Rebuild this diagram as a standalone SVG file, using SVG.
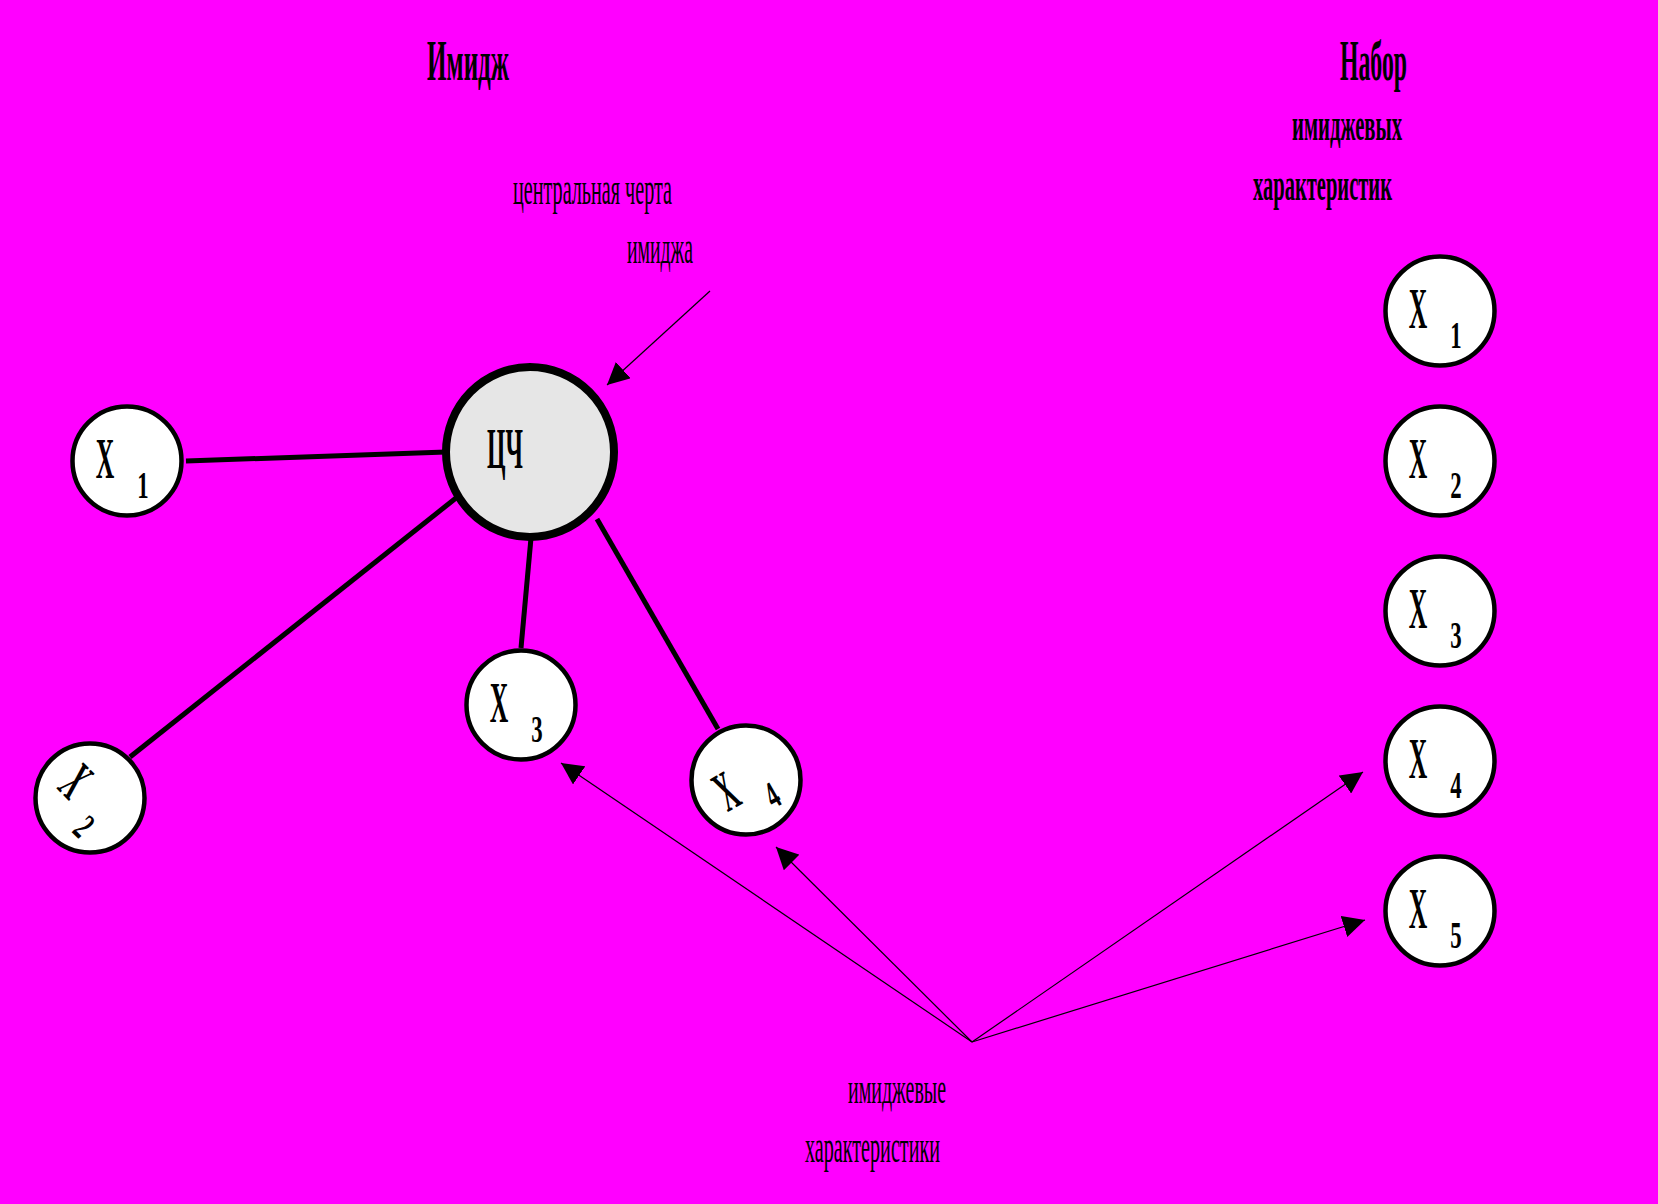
<svg xmlns="http://www.w3.org/2000/svg" width="1658" height="1204" viewBox="0 0 1658 1204">
<style>
.t{font-family:"Liberation Serif","Times New Roman",serif;fill:#000}
.b{font-weight:bold}
.node{fill:#fff;stroke:#000;stroke-width:4.5}
.edge{stroke:#000;stroke-width:5;fill:none}
.ptr{stroke:#000;stroke-width:1.2;fill:none;marker-end:url(#ah)}
.xl{font-family:"Liberation Serif","Times New Roman",serif;font-weight:bold;font-size:57px;text-anchor:middle}
.sub{font-family:"Liberation Serif","Times New Roman",serif;font-weight:bold;font-size:38px;text-anchor:middle}
</style>
<defs>
<marker id="ah" markerUnits="userSpaceOnUse" markerWidth="22" markerHeight="22" refX="20" refY="10" orient="auto" viewBox="0 0 20 20"><path d="M0,0 L20,10 L0,20 z" fill="#000"/></marker>
</defs>
<rect x="0" y="0" width="1658" height="1204" fill="#FF00FF"/>

<g id="labels">
<text class="t b" x="427" y="80" font-size="57" textLength="82" lengthAdjust="spacingAndGlyphs">Имидж</text>
<text class="t b" x="1340" y="80" font-size="57" textLength="67" lengthAdjust="spacingAndGlyphs">Набор</text>
<text class="t b" x="1292" y="140" font-size="46" textLength="110" lengthAdjust="spacingAndGlyphs">имиджевых</text>
<text class="t b" x="1253" y="200" font-size="46" textLength="139" lengthAdjust="spacingAndGlyphs">характеристик</text>
<text class="t" x="513" y="204" font-size="47" textLength="159" lengthAdjust="spacingAndGlyphs">центральная черта</text>
<text class="t" x="627" y="263" font-size="46" textLength="66" lengthAdjust="spacingAndGlyphs">имиджа</text>
<text class="t" x="848" y="1103" font-size="45" textLength="98" lengthAdjust="spacingAndGlyphs">имиджевые</text>
<text class="t" x="805" y="1162" font-size="47" textLength="135" lengthAdjust="spacingAndGlyphs">характеристики</text>
</g>

<g id="connectors">
<line class="edge" x1="186" y1="461" x2="446" y2="452"/>
<line class="edge" x1="130" y1="757" x2="456" y2="498"/>
<line class="edge" x1="531" y1="538" x2="521" y2="648"/>
<line class="edge" x1="597" y1="519" x2="718" y2="729"/>
<line class="ptr" x1="710" y1="291" x2="607" y2="385"/>
<line class="ptr" x1="972" y1="1042" x2="561" y2="763"/>
<line class="ptr" x1="972" y1="1042" x2="776" y2="847"/>
<line class="ptr" x1="972" y1="1042" x2="1363" y2="772"/>
<line class="ptr" x1="972" y1="1042" x2="1365" y2="920"/>
</g>

<g id="node-cc">
<ellipse cx="530" cy="452" rx="84" ry="85" fill="#E6E6E6" stroke="#000" stroke-width="8"/>
<text class="t b" x="487" y="468" font-size="56" textLength="36" lengthAdjust="spacingAndGlyphs">ЦЧ</text>
</g>

<g id="node-left-x1">
<circle class="node" cx="127" cy="461" r="54.5"/>
<text class="xl" transform="translate(105,478) scale(0.45,1)">X</text>
<text class="sub" transform="translate(143,498) scale(0.6,1)">1</text>
</g>

<g id="node-left-x2">
<circle class="node" cx="90" cy="798" r="54.5"/>
<g transform="rotate(45,90,798)">
<text class="xl" transform="translate(68,815) scale(0.45,1)">X</text>
<text class="sub" transform="translate(106,835) scale(0.6,1)">2</text>
</g>
</g>

<g id="node-left-x3">
<circle class="node" cx="521" cy="705" r="54.5"/>
<text class="xl" transform="translate(499,722) scale(0.45,1)">X</text>
<text class="sub" transform="translate(537,742) scale(0.6,1)">3</text>
</g>

<g id="node-left-x4">
<circle class="node" cx="746" cy="780" r="54.5"/>
<g transform="rotate(-30,746,782)">
<text class="xl" transform="translate(724,799) scale(0.45,1)">X</text>
<text class="sub" transform="translate(762,819) scale(0.6,1)">4</text>
</g>
</g>

<g id="node-right-x1">
<circle class="node" cx="1440" cy="311" r="54.5"/>
<text class="xl" transform="translate(1418,328) scale(0.45,1)">X</text>
<text class="sub" transform="translate(1456,348) scale(0.6,1)">1</text>
</g>
<g id="node-right-x2">
<circle class="node" cx="1440" cy="461" r="54.5"/>
<text class="xl" transform="translate(1418,478) scale(0.45,1)">X</text>
<text class="sub" transform="translate(1456,498) scale(0.6,1)">2</text>
</g>
<g id="node-right-x3">
<circle class="node" cx="1440" cy="611" r="54.5"/>
<text class="xl" transform="translate(1418,628) scale(0.45,1)">X</text>
<text class="sub" transform="translate(1456,648) scale(0.6,1)">3</text>
</g>
<g id="node-right-x4">
<circle class="node" cx="1440" cy="761" r="54.5"/>
<text class="xl" transform="translate(1418,778) scale(0.45,1)">X</text>
<text class="sub" transform="translate(1456,798) scale(0.6,1)">4</text>
</g>
<g id="node-right-x5">
<circle class="node" cx="1440" cy="911" r="54.5"/>
<text class="xl" transform="translate(1418,928) scale(0.45,1)">X</text>
<text class="sub" transform="translate(1456,948) scale(0.6,1)">5</text>
</g>
</svg>
